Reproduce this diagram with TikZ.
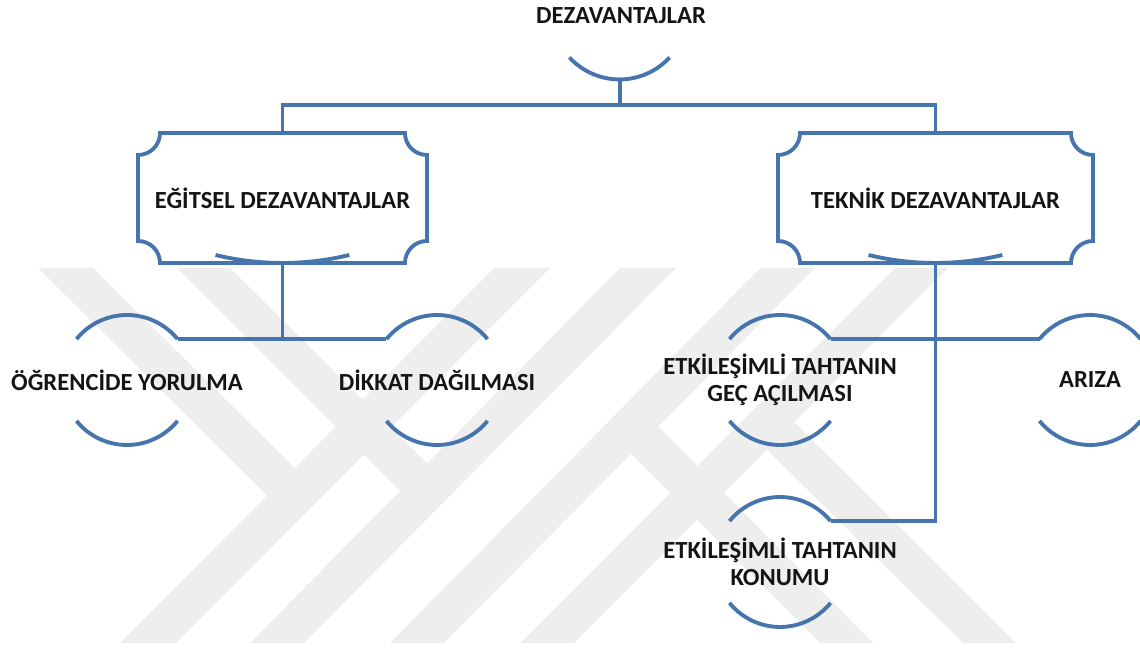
\documentclass[tikz,border=0pt]{standalone}
\usepackage{fontspec}
\setmainfont{Carlito}
\definecolor{sblue}{RGB}{70,116,172}
\definecolor{wm}{RGB}{238,238,238}
\definecolor{txt}{RGB}{20,20,20}
\newcommand\crad{0.44cm}
\tikzset{
  blueline/.style={draw=sblue, line width=2.2pt},
  ring/.style={circle, minimum size=2.6cm, inner sep=0pt, outer sep=0pt, draw=none},
  ringtop/.style={circle, minimum size=2.72cm, inner sep=0pt, outer sep=0pt, draw=none},
  lbl/.style={font=\bfseries\fontsize{14}{15.4}\selectfont, text=txt, align=center, inner sep=0pt},
  boxnode/.style={rectangle, minimum height=2.6cm, inner sep=0pt, outer sep=0pt},
  wmark/.style={fill=wm, draw=none},
}
\newcommand\plaque[1]{%
  \draw[blueline] ([xshift=\crad]#1.north west) -- ([xshift=-\crad]#1.north east)
    arc[start angle=180,end angle=270,radius=\crad] -- ([yshift=\crad]#1.south east)
    arc[start angle=90,end angle=180,radius=\crad] -- ([xshift=\crad]#1.south west)
    arc[start angle=0,end angle=90,radius=\crad] -- ([yshift=-\crad]#1.north west)
    arc[start angle=270,end angle=360,radius=\crad] -- cycle;
  \draw[blueline] ([xshift=-1.34cm,yshift=0.16cm]#1.south)
    arc[start angle=256.4,end angle=283.6,radius=284.6];}
\newcommand\leafarcs[1]{%
  \draw[blueline] (#1.141) arc[start angle=141,end angle=39,radius=65];
  \draw[blueline] (#1.219) arc[start angle=219,end angle=321,radius=65];}
\begin{document}
\begin{tikzpicture}[x=0.02cm,y=0.02cm]
\useasboundingbox (0,0) rectangle (1140,-648);
% watermark
\fill[wmark] (494,-268) -- (550,-268) -- (176,-643) -- (120,-643) -- cycle;
\fill[wmark] (620,-268) -- (676,-268) -- (304,-643) -- (250,-643) -- cycle;
\fill[wmark] (760,-268) -- (815,-268) -- (444,-643) -- (390,-643) -- cycle;
\fill[wmark] (895,-268) -- (948,-268) -- (574,-643) -- (521,-643) -- cycle;
\fill[wmark] (38,-268) -- (93,-268) -- (309.7,-482.7) -- (282.4,-510.4) -- cycle;
\fill[wmark] (177,-268) -- (230,-268) -- (440.9,-476.9) -- (413.6,-504.6) -- cycle;
\fill[wmark] (617.4,-440.4) -- (644.6,-412.6) -- (873,-643) -- (820,-643) -- cycle;
\fill[wmark] (754.6,-437.6) -- (781.9,-409.9) -- (1016,-643) -- (963,-643) -- cycle;

% top
\node[ringtop] (tr) at (620,-12) {};
\draw[blueline] (tr.222.6) arc[start angle=222.6,end angle=317.4,radius=68];
\node[lbl] (tl) at (621,-16) {DEZAVANTAJLAR};

% boxes
\node[boxnode, minimum width=5.78cm, lbl] (egt) at (282.5,-198) {EĞİTSEL DEZAVANTAJLAR};
\node[boxnode, minimum width=6.3cm, lbl] (tek) at (935.5,-198) {TEKNİK DEZAVANTAJLAR};
\plaque{egt}
\plaque{tek}

% leaves
\node[ring] (c1) at (127,-380) {};
\node[ring] (c2) at (437,-380) {};
\node[ring] (g1) at (780,-380) {};
\node[ring] (ar) at (1090,-380) {};
\node[ring] (k3) at (780,-562) {};
\leafarcs{c1}
\leafarcs{c2}
\leafarcs{g1}
\leafarcs{ar}
\leafarcs{k3}
\node[lbl] (t1) at (c1) {ÖĞRENCİDE YORULMA};
\node[lbl] (t2) at (c2) {DİKKAT DAĞILMASI};
\node[lbl] (t3) at (g1) {ETKİLEŞİMLİ TAHTANIN\\GEÇ AÇILMASI};
\node[lbl] (t4) at (ar) {ARIZA};
\node[lbl] (t5) at (k3) {ETKİLEŞİMLİ TAHTANIN\\KONUMU};

% connectors
\coordinate (bus) at (620,-105);
\draw[blueline] (tr.south) -- (bus);
\draw[blueline] (egt.north) -- (egt.north |- bus) -- (tek.north |- bus) -- (tek.north);
\draw[blueline] (egt.south) -- (egt.south |- c1.39);
\draw[blueline] (c1.39) -- (c2.141);
\draw[blueline] (g1.39) -- (ar.141);
\draw[blueline] (tek.south) |- (k3.39);
\end{tikzpicture}
\end{document}
